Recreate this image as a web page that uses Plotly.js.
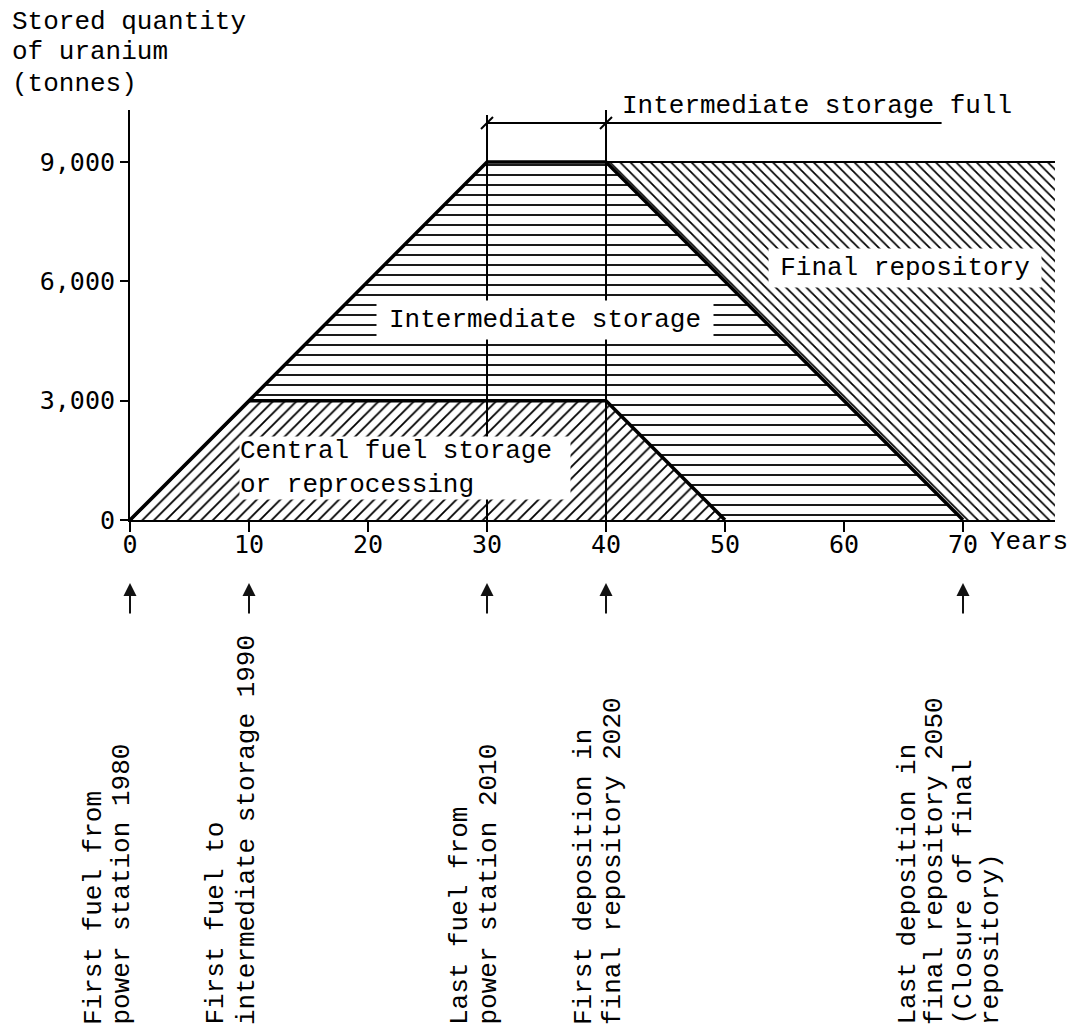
<!DOCTYPE html>
<html>
<head>
<meta charset="utf-8">
<script src="https://cdn.plot.ly/plotly-3.0.1.min.js"></script>
<style>html,body{margin:0;padding:0;background:#fff;}#chart{width:1069px;height:1031px;}</style>
</head>
<body>
<div id="chart"></div>
<script>
// ---------- data ----------
const xTicks = [0, 10, 20, 30, 40, 50, 60, 70];
const yTicks = [0, 3000, 6000, 9000];
const yTickText = ['0', '3,000', '6,000', '9,000'];
const horizonYear = 77.73;           // right end of the time axis
const yTop = 10307;                  // top of the quantity axis

// Central fuel storage or reprocessing
const centralX = [0, 10, 40, 50];
const centralY = [0, 3000, 3000, 0];
// Intermediate storage
const interX = [0, 30, 40, 70, 50, 40, 10];
const interY = [0, 9000, 9000, 0, 0, 3000, 3000];
// Final repository
const finalX = [40, horizonYear, horizonYear, 70];
const finalY = [9000, 9000, 0, 0];

// heavy outlines
const outerX = [0, 30, 40, 70];
const outerY = [0, 9000, 9000, 0];
const innerX = [10, 40, 50];
const innerY = [3000, 3000, 0];
const topX = [40, horizonYear];
const topY = [9000, 9000];

// "Intermediate storage full" dimension
const fullStart = 30, fullEnd = 40, fullLevel = 9980, underlineEnd = 68.2;
const verticalTops = [10180, 10307];

// events with arrows and rotated labels
const eventYears = [0, 10, 30, 40, 70];
const eventLines = [
  ['First fuel from', 'power station 1980'],
  ['First fuel to', 'intermediate storage 1990'],
  ['Last fuel from', 'power station 2010'],
  ['First deposition in', 'final repository 2020'],
  ['Last deposition in', 'final repository 2050', '(Closure of final', 'repository)']
];
const eventLineShifts = [
  [-36, -8],
  [-33, -2],
  [-27, 1],
  [-22, 7],
  [-56, -28, 0, 28]
];
const yTitleLines = ['Stored quantity', 'of uranium', '(tonnes)'];

// ---------- chart ----------
const MONO = 'Liberation Mono, Courier New, monospace';
const TICKF = 'DejaVu Sans Mono, monospace';

const traces = [
  {x: centralX, y: centralY, mode: 'none', fill: 'toself',
   fillpattern: {shape: '/', size: 8.3, solidity: 0.22, fgcolor: '#000', bgcolor: '#fff', fillmode: 'replace'}},
  {x: interX, y: interY, mode: 'none', fill: 'toself',
   fillpattern: {shape: '-', size: 10, solidity: 0.18, fgcolor: '#000', bgcolor: '#fff', fillmode: 'replace'}},
  {x: finalX, y: finalY, mode: 'none', fill: 'toself',
   fillpattern: {shape: '\\', size: 7.2, solidity: 0.24, fgcolor: '#000', bgcolor: '#fff', fillmode: 'replace'}},
  {x: outerX, y: outerY, mode: 'lines', line: {color: '#000', width: 3.5}},
  {x: innerX, y: innerY, mode: 'lines', line: {color: '#000', width: 3.5}},
  {x: topX, y: topY, mode: 'lines', line: {color: '#000', width: 2.2}}
];

const shapes = [];
[fullStart, fullEnd].forEach((yr, i) => {
  shapes.push({type: 'line', xref: 'x', yref: 'y', x0: yr, x1: yr, y0: 0, y1: verticalTops[i],
               line: {color: '#000', width: 2}, layer: 'above'});
  shapes.push({type: 'line', xref: 'x', yref: 'y', xsizemode: 'pixel', ysizemode: 'pixel',
               xanchor: yr, yanchor: fullLevel, x0: -6, x1: 6, y0: -6, y1: 6,
               line: {color: '#000', width: 2}, layer: 'above'});
});
shapes.push({type: 'line', xref: 'x', yref: 'y', x0: fullStart, x1: underlineEnd, y0: fullLevel, y1: fullLevel,
             line: {color: '#000', width: 2}, layer: 'above'});

const annotations = [];
// y title
const yTitleY = [1.2146, 1.1415, 1.0634];
yTitleLines.forEach((t, i) => annotations.push({
  text: t, xref: 'paper', yref: 'paper', x: -0.1297, y: yTitleY[i], xanchor: 'left', yanchor: 'middle',
  showarrow: false, font: {family: MONO, size: 26, color: '#000'}
}));
// region labels
annotations.push({text: 'Intermediate storage', xref: 'x', yref: 'y', x: 34.87, y: 5028,
  showarrow: false, bgcolor: '#fff', width: 336, height: 38, borderpad: 0,
  font: {family: MONO, size: 26, color: '#000'}});
annotations.push({text: 'Final repository', xref: 'x', yref: 'y', x: 65.13, y: 6335,
  showarrow: false, bgcolor: '#fff', width: 272, height: 38, borderpad: 0,
  font: {family: MONO, size: 26, color: '#000'}});
annotations.push({text: 'Central fuel storage<br>or reprocessing', xref: 'x', yref: 'y', x: 23.1, y: 1300,
  showarrow: false, bgcolor: '#fff', width: 330, height: 62, borderpad: 0, align: 'left',
  font: {family: MONO, size: 26, color: '#000'}});
annotations.push({text: 'Intermediate storage full', xref: 'x', yref: 'paper', x: fullEnd, xshift: 14,
  y: 1.0098, xanchor: 'left', yanchor: 'middle', showarrow: false,
  font: {family: MONO, size: 26, color: '#000'}});
annotations.push({text: 'Years', xref: 'paper', yref: 'paper', x: 0.9276, y: -0.0537,
  xanchor: 'left', yanchor: 'middle', showarrow: false,
  font: {family: MONO, size: 26, color: '#000'}});
// arrows and rotated labels
eventYears.forEach((yr, i) => {
  annotations.push({text: '', xref: 'x', yref: 'paper', x: yr, y: -0.1537,
    showarrow: true, ax: 0, ay: 32, axref: 'pixel', ayref: 'pixel',
    arrowhead: 2, arrowsize: 1.3, arrowwidth: 2, arrowcolor: '#111'});
  eventLines[i].forEach((t, j) => annotations.push({
    text: t, xref: 'x', yref: 'paper', x: yr, xshift: eventLineShifts[i][j], y: -1.2366,
    xanchor: 'center', yanchor: 'bottom', textangle: -90, showarrow: false,
    font: {family: MONO, size: 26, color: '#000'}
  }));
});

const layout = {
  width: 1069, height: 1031,
  margin: {l: 130, r: 14, t: 110, b: 511},
  paper_bgcolor: '#fff', plot_bgcolor: '#fff',
  showlegend: false, hovermode: false,
  xaxis: {range: [0, horizonYear], tickvals: xTicks, ticks: 'outside', ticklen: 10, tickwidth: 2,
          ticklabelstandoff: -9,
          tickcolor: '#000', showline: true, linewidth: 2, linecolor: '#000',
          showgrid: false, zeroline: false, tickfont: {family: TICKF, size: 25, color: '#000'}},
  yaxis: {range: [0, yTop], tickvals: yTicks, ticktext: yTickText, ticks: 'outside', ticklen: 8, tickwidth: 2,
          tickcolor: '#000', showline: true, linewidth: 2, linecolor: '#000',
          showgrid: false, zeroline: false, tickfont: {family: TICKF, size: 25, color: '#000'}},
  shapes: shapes,
  annotations: annotations
};

Plotly.newPlot('chart', traces, layout, {staticPlot: true, displayModeBar: false});
</script>
</body>
</html>
